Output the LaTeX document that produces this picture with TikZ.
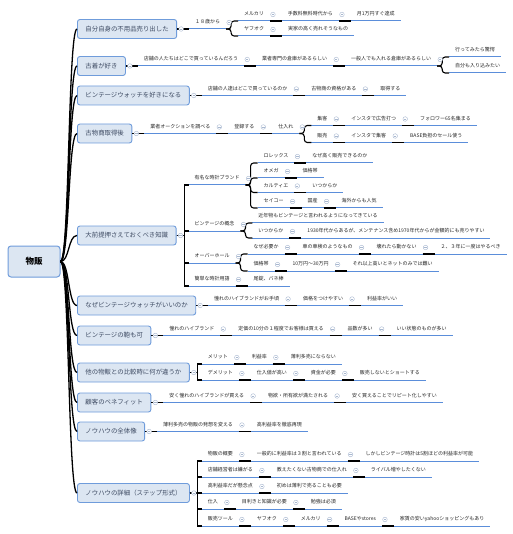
\documentclass[tikz,border=0pt]{standalone}
\usepackage{fontspec}
\newfontfamily\jp{Noto Sans CJK JP}
\usepackage{xcolor}
\usetikzlibrary{positioning}
\definecolor{boxfill}{HTML}{DCE6F2}
\definecolor{boxline}{HTML}{6F9CDB}
\definecolor{boxtext}{HTML}{3E4B63}
\definecolor{ulblue}{HTML}{5B8EDA}
\definecolor{foldline}{HTML}{A8B8D0}

\begin{document}
\begin{tikzpicture}[
x=1pt, y=-1pt,
topic/.style={
rectangle,
rounded corners=2.5pt,
draw=boxline,
line width=0.9pt,
fill=boxfill,
text=boxtext,
font=\jp\fontsize{6.4}{7}\selectfont,
minimum height=19pt,
inner xsep=8pt,
anchor=west
},
leaf/.style={
font=\jp\fontsize{5}{6}\selectfont,
text=black!85,
inner xsep=6pt,
inner ysep=4.5pt,
text height=3.9pt,
text depth=0.6pt,
outer sep=0pt,
anchor=south west,
append after command={(\tikzlastnode.south west) edge[ul] (\tikzlastnode.south east)}
},
follow/.style={right=12pt of #1.south east, anchor=south west},
ul/.style={draw=ulblue, line width=1pt},
link/.style={draw=black, line width=1.1pt},
trunk/.style={draw=black, line width=1.3pt},
fold/.style={
circle,
draw=foldline,
fill=white,
line width=0.4pt,
minimum size=4.6pt,
inner sep=0pt,
path picture={\draw[foldline, line width=0.4pt] ([xshift=-1.2pt]path picture bounding box.center) -- ([xshift=1.2pt]path picture bounding box.center);}
}
]

\useasboundingbox (0,0) rectangle (512,534);
\fill[white] (0,0) rectangle (512,534);

\node[rectangle, rounded corners=3pt, draw=boxline, line width=1pt, fill=boxfill,
minimum width=52pt, minimum height=31pt,
font=\jp\bfseries\fontsize{8.5}{10}\selectfont] (root) at (34,261.5) {物販};

\node[topic] (t1) at (77,29) {自分自身の不用品売り出した};
\node[topic] (t2) at (77,66) {古着が好き};
\node[topic] (t3) at (77,95.5) {ビンテージウォッチを好きになる};
\node[topic] (t4) at (77,133.5) {古物商取得後};
\node[topic] (t5) at (77,235.5) {大前提押さえておくべき知識};
\node[topic] (t6) at (77,305.5) {なぜビンテージウォッチがいいのか};
\node[topic] (t7) at (77,335.5) {ビンテージの鞄も可};
\node[topic] (t8) at (77,372.5) {他の物販との比較時に何が違うか};
\node[topic] (t9) at (77,402.5) {顧客のベネフィット};
\node[topic] (t10) at (77,431.5) {ノウハウの全体像};
\node[topic] (t11) at (77,493) {ノウハウの詳細（ステップ形式）};

\node[leaf] (a1) at ([xshift=12pt]t1.east) {１８歳から};
\node[leaf] (a2) at ([xshift=12pt,yshift=8pt]a1.south east) {メルカリ};
\node[leaf, follow=a2] (a3) {手数料無料時代から};
\node[leaf, follow=a3] (a4) {月1万円すぐ達成};
\node[leaf] (a5) at ([xshift=12pt,yshift=-7pt]a1.south east) {ヤフオク};
\node[leaf, follow=a5] (a6) {実家の高く売れそうなもの};

\node[leaf] (b1) at ([xshift=12pt]t2.east) {店舗の人たちはどこで買っているんだろう};
\node[leaf, follow=b1] (b2) {業者専門の倉庫があるらしい};
\node[leaf, follow=b2] (b3) {一般人でも入れる倉庫があるらしい};
\node[leaf] (b4) at ([xshift=12pt,yshift=9pt]b3.south east) {行ってみたら驚愕};
\node[leaf] (b5) at ([xshift=12pt,yshift=-7pt]b3.south east) {自分も入り込みたい};

\node[leaf] (c1) at ([xshift=12pt]t3.east) {店舗の人達はどこで買っているのか};
\node[leaf, follow=c1] (c2) {古物商の資格がある};
\node[leaf, follow=c2] (c3) {取得する};

\node[leaf] (d1) at ([xshift=12pt]t4.east) {業者オークションを調べる};
\node[leaf, follow=d1] (d2) {登録する};
\node[leaf, follow=d2] (d3) {仕入れ};
\node[leaf] (d4) at ([xshift=12pt,yshift=8pt]d3.south east) {集客};
\node[leaf, follow=d4] (d5) {インスタで広告打つ};
\node[leaf, follow=d5] (d6) {フォロワー65名集まる};
\node[leaf] (d7) at ([xshift=12pt,yshift=-9pt]d3.south east) {販売};
\node[leaf, follow=d7] (d8) {インスタで集客};
\node[leaf, follow=d8] (d9) {BASE負担のセール使う};

\node[leaf] (e1) at ([xshift=12pt,yshift=50.5pt]t5.east) {有名な時計ブランド};
\node[leaf] (e2) at ([xshift=12pt,yshift=22pt]e1.south east) {ロレックス};
\node[leaf, follow=e2] (e3) {なぜ高く販売できるのか};
\node[leaf] (e4) at ([xshift=12pt,yshift=7pt]e1.south east) {オメガ};
\node[leaf, follow=e4] (e5) {価格帯};
\node[leaf] (e6) at ([xshift=12pt,yshift=-7.5pt]e1.south east) {カルティエ};
\node[leaf, follow=e6] (e7) {いつからか};
\node[leaf] (e8) at ([xshift=12pt,yshift=-23pt]e1.south east) {セイコー};
\node[leaf, follow=e8] (e9) {国産};
\node[leaf, follow=e9] (e10) {海外からも人気};

\node[leaf] (f1) at ([xshift=12pt,yshift=4.5pt]t5.east) {ビンテージの概念};
\node[leaf] (f2) at ([xshift=12pt,yshift=8pt]f1.south east) {近年物もビンテージと言われるようになってきている};
\node[leaf] (f3) at ([xshift=12pt,yshift=-7pt]f1.south east) {いつからか};
\node[leaf, follow=f3] (f4) {1930年代からあるが、メンテナンス含め1970年代からが金額的にも売りやすい};

\node[leaf] (g1) at ([xshift=12pt,yshift=-27.5pt]t5.east) {オーバーホール};
\node[leaf] (g2) at ([xshift=12pt,yshift=9pt]g1.south east) {なぜ必要か};
\node[leaf, follow=g2] (g3) {車の車検のようなもの};
\node[leaf, follow=g3] (g4) {壊れたら動かない};
\node[leaf, follow=g4] (g5) {２、３年に一度はやるべき};
\node[leaf] (g6) at ([xshift=12pt,yshift=-8pt]g1.south east) {価格帯};
\node[leaf, follow=g6] (g7) {10万円〜30万円};
\node[leaf, follow=g7] (g8) {それ以上高いとネットのみでは難い};

\node[leaf] (h1) at ([xshift=12pt,yshift=-50.5pt]t5.east) {簡単な時計用語};
\node[leaf, follow=h1] (h2) {尾錠、バネ棒};

\node[leaf] (i1) at ([xshift=12pt]t6.east) {憧れのハイブランドがお手頃};
\node[leaf, follow=i1] (i2) {価格をつけやすい};
\node[leaf, follow=i2] (i3) {利益率がいい};

\node[leaf] (j1) at ([xshift=12pt]t7.east) {憧れのハイブランド};
\node[leaf, follow=j1] (j2) {定価の10分の１程度でお客様は買える};
\node[leaf, follow=j2] (j3) {品数が多い};
\node[leaf, follow=j3] (j4) {いい状態のものが多い};

\node[leaf] (k1) at ([xshift=12pt,yshift=8.5pt]t8.east) {メリット};
\node[leaf, follow=k1] (k2) {利益率};
\node[leaf, follow=k2] (k3) {薄利多売にならない};
\node[leaf] (k4) at ([xshift=12pt,yshift=-7.5pt]t8.east) {デメリット};
\node[leaf, follow=k4] (k5) {仕入値が高い};
\node[leaf, follow=k5] (k6) {資金が必要};
\node[leaf, follow=k6] (k7) {販売しないとショートする};

\node[leaf] (m1) at ([xshift=12pt]t9.east) {安く憧れのハイブランドが買える};
\node[leaf, follow=m1] (m2) {物欲・所有欲が満たされる};
\node[leaf, follow=m2] (m3) {安く買えることでリピート化しやすい};

\node[leaf] (n1) at ([xshift=12pt]t10.east) {薄利多売の物販の発想を変える};
\node[leaf, follow=n1] (n2) {高利益率を徹底再現};

\node[leaf] (p1) at ([xshift=12pt,yshift=32pt]t11.east) {物販の概要};
\node[leaf, follow=p1] (p2) {一般的に利益率は３割と言われている};
\node[leaf, follow=p2] (p3) {しかしビンテージ時計は5割ほどの利益率が可能};
\node[leaf] (p4) at ([xshift=12pt,yshift=16pt]t11.east) {店舗経営者は嫌がる};
\node[leaf, follow=p4] (p5) {教えたくない古物商での仕入れ};
\node[leaf, follow=p5] (p6) {ライバル増やしたくない};
\node[leaf] (p7) at ([xshift=12pt]t11.east) {高利益率だが懸念点};
\node[leaf, follow=p7] (p8) {初めは薄利で売ることも必要};
\node[leaf] (p9) at ([xshift=12pt,yshift=-16pt]t11.east) {仕入};
\node[leaf, follow=p9] (p10) {目利きと知識が必要};
\node[leaf, follow=p10] (p11) {勉強は必須};
\node[leaf] (p12) at ([xshift=12pt,yshift=-33pt]t11.east) {販売ツール};
\node[leaf, follow=p12] (p13) {ヤフオク};
\node[leaf, follow=p13] (p14) {メルカリ};
\node[leaf, follow=p14] (p15) {BASEやstores};
\node[leaf, follow=p15] (p16) {家賃の安いyahooショッピングもあり};

\foreach \n in {t1,t2,t3,t4,t5,t6,t7,t8,t9,t10,t11}
\draw[trunk] (root.east) .. controls +(9,0) and +(-9,0) .. (\n.west);

\foreach \a/\b in {t1/a1,t2/b1,t3/c1,t4/d1,t6/i1,t7/j1,t9/m1,t10/n1}
\draw[link] (\a.east) -- (\b.south west);

\foreach \a/\b in {t5/e1,t5/f1,t5/g1,t5/h1,t8/k1,t8/k4,t11/p1,t11/p4,t11/p7,t11/p9,t11/p12}
\draw[link] (\a.east) -- ++(8,0) |- (\b.south west);

\foreach \a/\b in {a1/a2,a1/a5,b3/b4,b3/b5,d3/d4,d3/d7,e1/e2,e1/e4,e1/e6,e1/e8,f1/f2,f1/f3,g1/g2,g1/g6}
\draw[link, rounded corners=3pt] (\a.south east) -- ++(5,0) |- (\b.south west);

\foreach \a/\b in {a2/a3,a3/a4,a5/a6,b1/b2,b2/b3,c1/c2,c2/c3,d1/d2,d2/d3,d4/d5,d5/d6,d7/d8,d8/d9,
e2/e3,e4/e5,e6/e7,e8/e9,e9/e10,f3/f4,g2/g3,g3/g4,g4/g5,g6/g7,g7/g8,h1/h2,i1/i2,i2/i3,
j1/j2,j2/j3,j3/j4,k1/k2,k2/k3,k4/k5,k5/k6,k6/k7,m1/m2,m2/m3,n1/n2,
p1/p2,p2/p3,p4/p5,p5/p6,p7/p8,p9/p10,p10/p11,p12/p13,p13/p14,p14/p15,p15/p16}
\draw[link] (\a.south east) -- (\b.south west);

\foreach \n in {t1,t2,t3,t4,t5,t6,t7,t8,t9,t10,t11}
\node[fold] at ([xshift=4pt]\n.east) {};

\foreach \n in {a1,a2,a3,a5,b1,b2,b3,c1,c2,d1,d2,d3,d4,d5,d7,d8,e1,e2,e4,e6,e8,e9,f1,f3,
g1,g2,g3,g4,g6,g7,h1,i1,i2,j1,j2,j3,k1,k2,k4,k5,k6,m1,m2,n1,
p1,p2,p4,p5,p7,p9,p10,p12,p13,p14,p15}
\node[fold] at ([xshift=3pt,yshift=6.5pt]\n.south east) {};

\end{tikzpicture}
\end{document}
